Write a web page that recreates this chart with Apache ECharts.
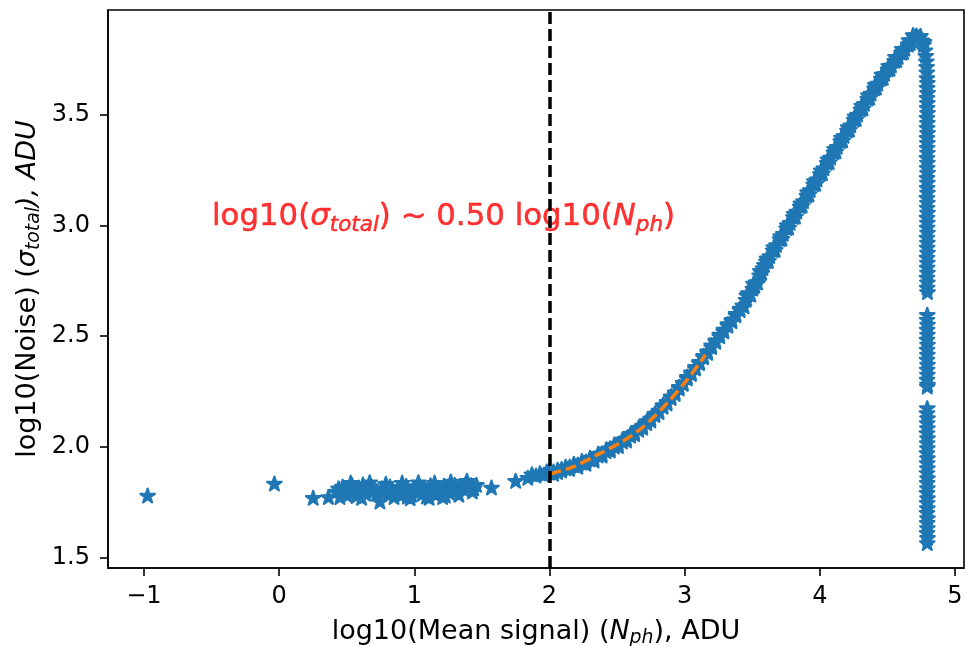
<!DOCTYPE html>
<html>
<head>
<meta charset="utf-8">
<script src="https://cdn.jsdelivr.net/npm/echarts@6/dist/echarts.min.js"></script>
<style>
html,body{margin:0;padding:0;background:#fff;}
#chart{width:966px;height:646px;}
</style>
</head>
<body>
<div id="chart"></div>
<script>
// ---------- data ----------
const xTicks = [-1, 0, 1, 2, 3, 4, 5];
const yTicks = [1.5, 2.0, 2.5, 3.0, 3.5];
const xRange = [-1.266, 5.067];
const yRange = [1.455, 3.971];

// noise floor: [log10 mean signal, log10 noise]
const floorPts = [
  [-0.973, 1.782], [-0.035, 1.836], [0.252, 1.772], [0.365, 1.775],
  [0.42, 1.800], [0.44, 1.815], [0.46, 1.790], [0.47, 1.822], [0.49, 1.805],
  [0.50, 1.785], [0.52, 1.812], [0.54, 1.828], [0.55, 1.795], [0.57, 1.780],
  [0.59, 1.818], [0.60, 1.800], [0.62, 1.832], [0.64, 1.790], [0.66, 1.812],
  [0.68, 1.825], [0.70, 1.803], [0.72, 1.790], [0.746, 1.755], [0.76, 1.815],
  [0.78, 1.800], [0.80, 1.788], [0.82, 1.822], [0.84, 1.805], [0.86, 1.795],
  [0.88, 1.815], [0.90, 1.782], [0.92, 1.808], [0.94, 1.825], [0.96, 1.797],
  [0.98, 1.785], [1.00, 1.812], [1.02, 1.800], [1.04, 1.823], [1.06, 1.790],
  [1.08, 1.810], [1.10, 1.798], [1.12, 1.828], [1.14, 1.805], [1.16, 1.785],
  [1.18, 1.815], [1.20, 1.800], [1.22, 1.826], [1.24, 1.810], [1.26, 1.795],
  [1.28, 1.818], [1.30, 1.830], [1.32, 1.808], [1.34, 1.822], [1.36, 1.812],
  [1.38, 1.835], [1.40, 1.820], [1.42, 1.828], [1.44, 1.815], [1.46, 1.830],
  [0.45, 1.775], [0.53, 1.840], [0.61, 1.772], [0.67, 1.842], [0.79, 1.835],
  [0.85, 1.775], [0.91, 1.840], [0.97, 1.770], [1.03, 1.842], [1.09, 1.778],
  [1.15, 1.840], [1.21, 1.775], [1.27, 1.845], [1.33, 1.785], [1.39, 1.848],
  [1.43, 1.800], [0.95, 1.778], [1.11, 1.772], [1.23, 1.782],
  [1.571, 1.818], [1.75, 1.848], [1.84, 1.862], [1.87, 1.878], [1.90, 1.872],
  [1.93, 1.882], [1.96, 1.876], [1.98, 1.890]
];

// rising branch
const risePts = [
  [2.00, 1.885], [2.00, 1.895], [2.03, 1.890], [2.03, 1.880], [2.06, 1.898], [2.06, 1.888],
  [2.09, 1.902], [2.09, 1.895], [2.12, 1.905], [2.12, 1.912], [2.15, 1.912], [2.15, 1.902],
  [2.18, 1.918], [2.18, 1.925], [2.21, 1.922], [2.21, 1.912], [2.24, 1.930], [2.24, 1.938],
  [2.27, 1.935], [2.27, 1.925], [2.30, 1.945], [2.30, 1.952], [2.33, 1.950], [2.33, 1.940],
  [2.36, 1.962], [2.36, 1.970], [2.39, 1.972], [2.39, 1.962], [2.42, 1.982], [2.42, 1.990],
  [2.45, 1.995], [2.45, 1.985], [2.48, 2.003], [2.48, 2.012], [2.51, 2.015], [2.51, 2.005],
  [2.54, 2.025], [2.54, 2.035], [2.57, 2.040], [2.57, 2.030], [2.60, 2.052], [2.60, 2.060],
  [2.63, 2.068], [2.63, 2.058], [2.66, 2.078], [2.66, 2.088], [2.69, 2.098], [2.69, 2.088],
  [2.72, 2.108], [2.72, 2.118], [2.75, 2.130], [2.75, 2.120], [2.78, 2.145], [2.78, 2.152],
  [2.81, 2.165], [2.81, 2.158], [2.84, 2.182], [2.84, 2.190], [2.87, 2.205], [2.87, 2.197],
  [2.90, 2.222], [2.90, 2.230], [2.93, 2.248], [2.93, 2.240], [2.96, 2.265], [2.96, 2.272],
  [2.99, 2.292], [2.99, 2.285], [3.02, 2.310], [3.02, 2.318], [3.05, 2.338], [3.05, 2.330],
  [3.08, 2.355], [3.08, 2.362], [3.11, 2.385], [3.11, 2.378], [3.14, 2.405], [3.14, 2.412],
  [3.17, 2.432], [3.17, 2.425], [3.20, 2.452], [3.20, 2.460], [3.23, 2.482], [3.23, 2.475],
  [3.26, 2.500], [3.26, 2.508], [3.29, 2.530], [3.29, 2.522], [3.32, 2.548], [3.32, 2.555],
  [3.35, 2.575], [3.35, 2.568], [3.38, 2.595], [3.38, 2.602], [3.41, 2.625], [3.41, 2.618],
  [3.43, 2.640], [3.455, 2.665], [3.47, 2.695], [3.48, 2.690], [3.505, 2.715], [3.52, 2.728],
  [3.53, 2.745], [3.555, 2.775], [3.58, 2.808], [3.59, 2.822], [3.605, 2.838], [3.63, 2.862],
  [3.655, 2.888], [3.68, 2.912], [3.705, 2.938], [3.73, 2.962], [3.755, 2.988], [3.78, 3.012],
  [3.805, 3.038], [3.83, 3.062], [3.855, 3.086], [3.88, 3.110], [3.905, 3.135], [3.93, 3.160],
  [3.955, 3.185], [3.98, 3.208], [4.005, 3.232], [4.03, 3.258], [4.055, 3.282], [4.08, 3.306],
  [4.105, 3.330], [4.13, 3.355], [4.155, 3.380], [4.18, 3.404], [4.205, 3.428], [4.23, 3.452],
  [4.255, 3.477], [4.28, 3.500], [4.305, 3.524], [4.33, 3.548], [4.355, 3.572], [4.38, 3.595],
  [4.405, 3.618], [4.43, 3.640], [4.455, 3.662], [4.48, 3.684], [4.505, 3.704], [4.53, 3.722],
  [4.555, 3.742], [4.58, 3.760], [4.605, 3.778], [4.63, 3.797], [4.655, 3.815], [4.68, 3.835],
  [4.70, 3.850], [4.715, 3.856],
  // second pass (band thickness)
  [3.44, 2.635], [3.49, 2.688], [3.54, 2.742], [3.57, 2.786], [3.62, 2.840], [3.67, 2.890],
  [3.72, 2.940], [3.77, 2.990], [3.82, 3.040], [3.87, 3.090], [3.92, 3.140], [3.97, 3.188],
  [4.02, 3.236], [4.07, 3.286], [4.12, 3.334], [4.17, 3.384], [4.22, 3.432], [4.27, 3.480],
  [4.32, 3.528], [4.37, 3.576], [4.42, 3.622], [4.47, 3.666], [4.52, 3.706], [4.57, 3.746],
  [4.62, 3.782], [4.67, 3.822],
  [3.46, 2.685], [3.51, 2.738], [3.56, 2.795], [3.61, 2.852], [3.66, 2.902], [3.71, 2.952],
  [3.76, 3.002], [3.81, 3.052], [3.86, 3.100], [3.91, 3.150], [3.96, 3.200], [4.01, 3.248],
  [4.06, 3.298], [4.11, 3.346], [4.16, 3.396], [4.21, 3.444], [4.26, 3.492], [4.31, 3.540],
  [4.36, 3.588], [4.41, 3.634], [4.46, 3.680], [4.51, 3.720], [4.56, 3.760], [4.61, 3.796],
  [4.66, 3.836], [4.69, 3.858]
];

// saturation drop
const dropPts = [
  [4.735, 3.848], [4.755, 3.835], [4.768, 3.815], [4.778, 3.790], [4.784, 3.765], [4.788, 3.740],
  [4.790, 3.715], [4.792, 3.690], [4.745, 3.855], [4.772, 3.828],
  [4.793, 3.665], [4.796, 3.643], [4.794, 3.620], [4.797, 3.598], [4.793, 3.575], [4.796, 3.553],
  [4.794, 3.530], [4.797, 3.508], [4.793, 3.485], [4.796, 3.463], [4.794, 3.440], [4.797, 3.418],
  [4.793, 3.395], [4.796, 3.373], [4.794, 3.350], [4.797, 3.328], [4.793, 3.305], [4.796, 3.283],
  [4.794, 3.260], [4.797, 3.238], [4.793, 3.215], [4.796, 3.193], [4.794, 3.170], [4.797, 3.148],
  [4.793, 3.125], [4.796, 3.103], [4.794, 3.080], [4.797, 3.058], [4.793, 3.035], [4.796, 3.013],
  [4.794, 2.990], [4.797, 2.968], [4.793, 2.945], [4.796, 2.923], [4.794, 2.900], [4.797, 2.878],
  [4.793, 2.855], [4.796, 2.833], [4.794, 2.810], [4.797, 2.788], [4.793, 2.765], [4.796, 2.743],
  [4.794, 2.720], [4.797, 2.700],
  [4.795, 2.597], [4.793, 2.575], [4.797, 2.553], [4.794, 2.530], [4.796, 2.508], [4.793, 2.485],
  [4.797, 2.463], [4.794, 2.440], [4.796, 2.418], [4.793, 2.395], [4.797, 2.373], [4.794, 2.350],
  [4.796, 2.328], [4.793, 2.305], [4.797, 2.283], [4.795, 2.273],
  [4.795, 2.176], [4.793, 2.154], [4.797, 2.131], [4.794, 2.109], [4.796, 2.086], [4.793, 2.064],
  [4.797, 2.041], [4.794, 2.019], [4.796, 1.996], [4.793, 1.974], [4.797, 1.951], [4.794, 1.929],
  [4.796, 1.906], [4.793, 1.884], [4.797, 1.861], [4.794, 1.839], [4.796, 1.816], [4.793, 1.794],
  [4.797, 1.771], [4.794, 1.749], [4.796, 1.726], [4.793, 1.704], [4.797, 1.681], [4.794, 1.659],
  [4.796, 1.636], [4.793, 1.614], [4.797, 1.591], [4.795, 1.568]
];

// fitted dashed curve
const fitPts = [
  [2.007, 1.879], [2.180, 1.912], [2.353, 1.965], [2.525, 2.020],
  [2.697, 2.093], [2.870, 2.198], [3.018, 2.303], [3.154, 2.416]
];

const thresholdX = 2;
const annotationAt = [-0.5, 3.0];

// ---------- chart ----------
const FONT = 'DejaVu Sans';
const STAR = 'path://M0,-1L0.2245,-0.309L0.9511,-0.309L0.3633,0.118L0.5878,0.809L0,0.382L-0.5878,0.809L-0.3633,0.118L-0.9511,-0.309L-0.2245,-0.309Z';

const axisRich = {
  n: {fontFamily: FONT, fontSize: 27, lineHeight: 33, color: '#000'},
  i: {fontFamily: FONT, fontSize: 27, lineHeight: 33, color: '#000', fontStyle: 'italic'},
  s: {fontFamily: FONT, fontSize: 18.9, lineHeight: 19.2, color: '#000', fontStyle: 'italic', verticalAlign: 'bottom'}
};
const RED = '#ff0000';
const redBase = {fontFamily: FONT, color: RED, textBorderColor: RED, textBorderWidth: 0.5};
const redRich = {
  n: Object.assign({}, redBase, {fontSize: 30.8, lineHeight: 38}),
  i: Object.assign({}, redBase, {fontSize: 30.8, lineHeight: 38, fontStyle: 'italic'}),
  s: Object.assign({}, redBase, {fontSize: 21.5, lineHeight: 22.6, fontStyle: 'italic', verticalAlign: 'bottom'})
};

const fmtX = v => (v < 0 ? '\u2212' + Math.abs(v) : String(v));

const chart = echarts.init(document.getElementById('chart'), null, {renderer: 'canvas'});
chart.setOption({
  animation: false,
  backgroundColor: '#fff',
  grid: {left: 108, top: 10, width: 856, height: 558, show: true, borderColor: '#000', borderWidth: 1.6,
         backgroundColor: 'transparent', containLabel: false, outerBoundsMode: 'none'},
  xAxis: {
    type: 'value', min: xRange[0], max: xRange[1],
    splitLine: {show: false},
    axisLine: {show: true, onZero: false, lineStyle: {color: '#000', width: 1.6}},
    axisTick: {show: true, length: 8, lineStyle: {color: '#000', width: 1.6}, customValues: xTicks},
    axisLabel: {customValues: xTicks, formatter: fmtX, fontFamily: FONT, fontSize: 24, lineHeight: 24, color: '#000', margin: 17},
    name: '{n|log10(Mean signal) (}{i|N}{s|ph}{n|), ADU}',
    nameLocation: 'middle', nameGap: 47, nameMoveOverlap: false,
    nameTextStyle: {rich: axisRich}
  },
  yAxis: {
    type: 'value', min: yRange[0], max: yRange[1],
    splitLine: {show: false},
    axisLine: {show: true, onZero: false, lineStyle: {color: '#000', width: 1.6}},
    axisTick: {show: true, length: 8, lineStyle: {color: '#000', width: 1.6}, customValues: yTicks},
    axisLabel: {customValues: yTicks, formatter: v => v.toFixed(1), fontFamily: FONT, fontSize: 24, lineHeight: 24,
                padding: [7, 0, 0, 0], color: '#000', margin: 18},
    name: '{n|log10(Noise) (}{i|σ}{s|total}{i|), ADU}',
    nameLocation: 'middle', nameGap: 64, nameMoveOverlap: false,
    nameTextStyle: {rich: axisRich}
  },
  series: [
    {
      type: 'scatter', name: 'data', z: 2,
      symbol: STAR, symbolSize: 14.5, symbolKeepAspect: true,
      itemStyle: {color: '#1f77b4', opacity: 1, borderColor: '#1f77b4', borderWidth: 2.2, borderJoin: 'round'},
      data: floorPts.concat(risePts, dropPts)
    },
    {
      type: 'scatter', name: 'annotation', z: 3,
      symbol: 'circle', symbolSize: 1,
      itemStyle: {color: 'rgba(0,0,0,0)'},
      label: {
        show: true, position: 'right', distance: 0, offset: [0, -8],
        formatter: '{n|log10(}{i|σ}{s|total}{n|) ~ 0.50 log10(}{i|N}{s|ph}{n|)}',
        rich: redRich
      },
      data: [annotationAt]
    },
    {
      type: 'line', name: 'fit', z: 4,
      data: fitPts, smooth: 0.3, symbol: 'none',
      lineStyle: {color: '#ff7f0e', width: 3.5, type: [11, 5]}
    },
    {
      type: 'line', name: 'threshold', z: 5, data: [],
      markLine: {
        silent: true, symbol: ['none', 'none'], animation: false,
        label: {show: false},
        lineStyle: {color: '#000', width: 3.5, type: [12, 5]},
        data: [{xAxis: thresholdX}]
      }
    }
  ]
});
</script>
</body>
</html>
